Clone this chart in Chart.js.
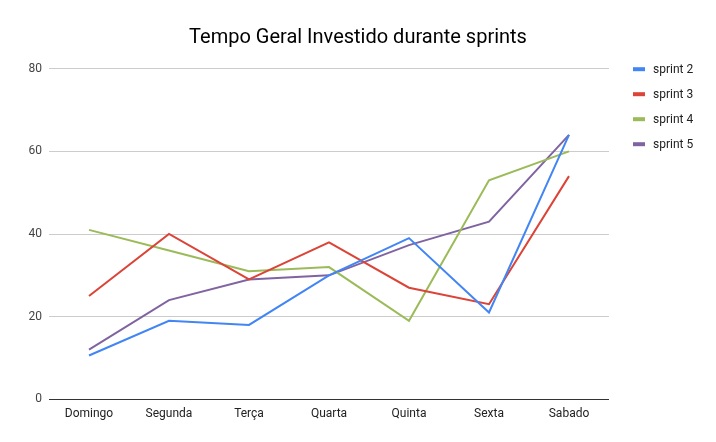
<!DOCTYPE html>
<html>
<head>
<meta charset="utf-8">
<script src="https://cdn.jsdelivr.net/npm/chart.js@4.4.1/dist/chart.umd.min.js"></script>
<style>
  html, body { margin: 0; padding: 0; background: #fff; }
  #wrap { width: 716px; height: 442px; }
</style>
</head>
<body>
<div id="wrap"><canvas id="chart"></canvas></div>
<script>
const dias = ["Domingo", "Segunda", "Terça", "Quarta", "Quinta", "Sexta", "Sabado"];

const sprint2 = [10.6, 19, 18, 30, 39, 21, 64];
const sprint3 = [25, 40, 29, 38, 27, 23, 54];
const sprint4 = [41, 36, 31, 32, 19, 53, 60];
const sprint5 = [12, 24, 29, 30, 37.3, 43, 64];

const seriesNames = ["sprint 2", "sprint 3", "sprint 4", "sprint 5"];
const seriesColors = ["#4285f4", "#db4437", "#9bbb59", "#8064a2"];
const yTicks = [0, 20, 40, 60, 80];

Chart.defaults.font.family = "Roboto, 'Noto Sans', sans-serif";

// legenda desenhada a mão, ao lado direito da área do gráfico
const sideLegend = {
  id: "sideLegend",
  afterDraw(chart) {
    const { ctx, chartArea } = chart;
    ctx.save();
    ctx.font = "12px Roboto, 'Noto Sans', sans-serif";
    ctx.textBaseline = "middle";
    chart.data.datasets.forEach((ds, i) => {
      const y = chartArea.top + 0.5 + i * 25;
      const x = chartArea.right + 24;
      ctx.fillStyle = ds.borderColor;
      ctx.fillRect(x, y - 2, 12, 4);
      ctx.fillStyle = "#222";
      ctx.fillText(ds.label, x + 20, y + 0.5);
    });
    ctx.restore();
  },
};

const makeSet = (label, data, color) => ({
  label,
  data,
  borderColor: color,
  backgroundColor: color,
  borderWidth: 2,
  pointRadius: 0,
  tension: 0,
});

new Chart(document.getElementById("chart"), {
  type: "line",
  data: {
    labels: dias,
    datasets: [
      makeSet(seriesNames[0], sprint2, seriesColors[0]),
      makeSet(seriesNames[1], sprint3, seriesColors[1]),
      makeSet(seriesNames[2], sprint4, seriesColors[2]),
      makeSet(seriesNames[3], sprint5, seriesColors[3]),
    ],
  },
  options: {
    responsive: true,
    maintainAspectRatio: false,
    animation: false,
    layout: {
      padding: { left: 0, right: 0, top: 0, bottom: 13.3 },
    },
    scales: {
      x: {
        offset: true,
        grid: { display: false, drawTicks: false },
        border: { display: false },
        ticks: {
          color: "#222",
          font: { size: 12 },
          padding: 7.5,
          maxRotation: 0,
        },
      },
      y: {
        min: 0,
        max: 80,
        afterBuildTicks: (axis) => {
          axis.ticks = yTicks.map((v) => ({ value: v }));
        },
        afterFit: (axis) => {
          axis.width = 49;
        },
        border: { display: false },
        grid: {
          drawTicks: false,
          color: (c) => (c.tick && c.tick.value === 0 ? "#333" : "#cccccc"),
          lineWidth: 1,
        },
        ticks: {
          color: "#444",
          font: { size: 12 },
          padding: 7,
        },
      },
      // espaço vazio à direita, onde fica a legenda
      espaco: {
        position: "right",
        grid: { display: false, drawTicks: false },
        border: { display: false },
        ticks: { display: false },
        afterFit: (axis) => {
          axis.width = 107;
        },
      },
    },
    plugins: {
      title: {
        display: true,
        text: "Tempo Geral Investido durante sprints",
        color: "#000",
        font: { size: 20, weight: "normal" },
        padding: { top: 26, bottom: 18.7 },
      },
      legend: { display: false },
      tooltip: { enabled: false },
    },
  },
  plugins: [sideLegend],
});
</script>
</body>
</html>
